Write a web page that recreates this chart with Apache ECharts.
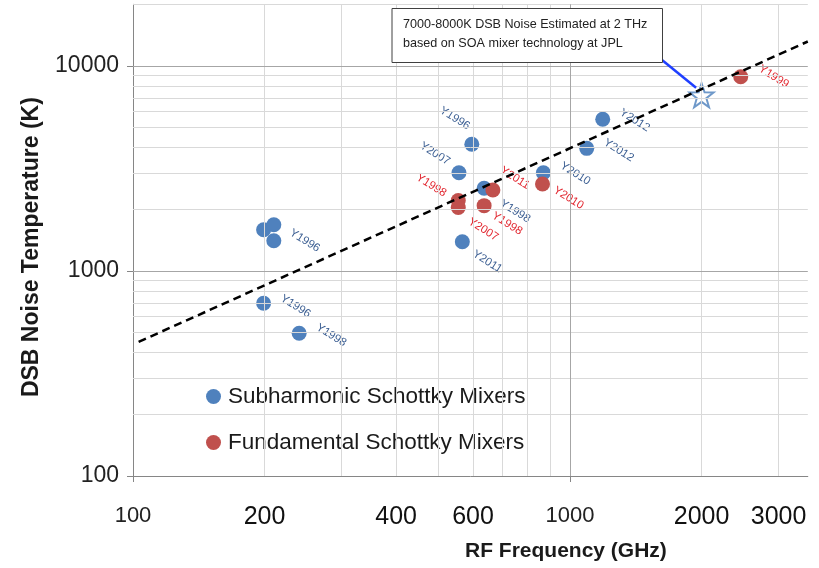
<!DOCTYPE html>
<html><head><meta charset="utf-8">
<script src="https://cdn.jsdelivr.net/npm/echarts@6/dist/echarts.min.js"></script>
<style>html,body{margin:0;padding:0;background:#fff}#c{width:819px;height:568px}</style>
</head><body><div id="c"></div>
<script>
// ---- data ----
const subFreq  = [199, 210, 210, 199, 240, 596, 557, 636, 869, 1092, 1188, 567];
const subTemp  = [1590, 1680, 1405, 696, 497, 4150, 3017, 2532, 3017, 3966, 5497, 1390];
const subYears = ['', '', 'Y1996', 'Y1996', 'Y1998', 'Y1996', 'Y2007', 'Y1998', 'Y2010', 'Y2012', 'Y2012', 'Y2011'];

const fundFreq  = [555, 555, 636, 666, 865, 2458];
const fundTemp  = [2208, 2040, 2083, 2484, 2657, 8870];
const fundYears = ['Y1998', 'Y2007', 'Y1998', 'Y2011', 'Y2010', 'Y1999'];

const soaEstimate = [2000, 7200];
const trendFreq = [103, 3500];
const trendTemp = [451, 13170];

const xLabelValues = [100, 200, 400, 600, 1000, 2000, 3000];
const yLabelValues = [100, 1000, 10000];
const xMajorGrid = [1000];
const xMinorGrid = [200, 300, 400, 500, 600, 700, 800, 900, 2000, 3000];
const yMajorGrid = [1000, 10000];
const yMinorGrid = [200, 300, 400, 500, 600, 700, 800, 900, 2000, 3000, 4000, 5000, 6000, 7000, 8000, 9000, 20000];

const calloutLines = ['7000-8000K DSB Noise Estimated at 2 THz', 'based on SOA mixer technology at JPL'];

// label pixel offsets on screen (layout only)
const subLabelOffsets  = [[0,0],[0,0],[31,0],[32,3],[32,2],[-17,-26],[-24,-19],[31,23],[32,1],[32,2],[32,1],[25,20]];
const fundLabelOffsets = [[-27,-15],[25,22],[23,18],[22,-12],[26,14],[33,0]];

const FONT = 'Liberation Sans, Arial, sans-serif';
const BLUE = '#4f81bd', RED = '#c0504d';
const LABEL_ROT = 32;

// label offset gets rotated with the text; pre-rotate so screen offset is as wanted
function unrotate(d) {
  const a = LABEL_ROT * Math.PI / 180, c = Math.cos(a), s = Math.sin(a);
  return [d[0] * c + d[1] * s, -d[0] * s + d[1] * c];
}
function items(freq, temp, years, offs) {
  return freq.map((f, i) => ({
    value: [f, temp[i]],
    label: years[i] ? { show: true, formatter: years[i], offset: unrotate(offs[i]) } : { show: false }
  }));
}
function labelStyle(color) {
  return { show: true, position: 'inside', align: 'center', verticalAlign: 'middle',
           rotate: -LABEL_ROT, fontSize: 11.5, fontFamily: FONT, color: color };
}

const chart = echarts.init(document.getElementById('c'), null, { renderer: 'canvas' });
const gridStyle = (c) => ({ color: c, width: 1, type: 'solid' });

chart.setOption({
  animation: false,
  backgroundColor: '#fff',
  grid: { left: 133, right: 11.2, top: 4.3, bottom: 92 },
  legend: {
    data: ['Subharmonic Schottky Mixers', 'Fundamental Schottky Mixers'],
    orient: 'vertical', left: 201, top: 380, itemGap: 23,
    icon: 'circle', itemWidth: 15, itemHeight: 15,
    textStyle: { fontSize: 22.5, fontFamily: FONT, color: '#1a1a1a', padding: [0,0,0,2] }
  },
  xAxis: {
    type: 'log', logBase: 10, min: 100, max: 3500,
    name: 'RF Frequency (GHz)', nameLocation: 'middle', nameGap: 65,
    nameTextStyle: { fontSize: 21, fontWeight: 'bold', fontFamily: FONT, color: '#1a1a1a', padding: [0,0,0,191] },
    axisLine: { show: true, lineStyle: { color: '#868686', width: 1 } },
    axisTick: { show: true, customValues: [100, 1000], length: 6, lineStyle: { color: '#868686' } },
    axisLabel: {
      customValues: xLabelValues, margin: 29,
      formatter: v => { const r = Math.round(v); return (r === 100 || r === 1000) ? '{s|' + r + '}' : '{b|' + r + '}'; },
      rich: { s: { fontSize: 22, fontFamily: FONT, color: '#222' }, b: { fontSize: 25, fontFamily: FONT, color: '#111' } }
    },
    splitLine: { show: false }, minorTick: { show: false }
  },
  yAxis: {
    type: 'log', logBase: 10, min: 100, max: 20000,
    name: 'DSB Noise Temperature (K)', nameLocation: 'middle', nameGap: 90,
    nameTextStyle: { fontSize: 23, fontWeight: 'bold', fontFamily: FONT, color: '#1a1a1a', padding: [0,14,0,0] },
    axisLine: { show: true, lineStyle: { color: '#868686', width: 1 } },
    axisTick: { show: true, customValues: yLabelValues, length: 6, lineStyle: { color: '#868686' } },
    axisLabel: { customValues: yLabelValues, margin: 14, fontSize: 23, fontFamily: FONT, color: '#222',
                 formatter: v => String(Math.round(v)) },
    splitLine: { show: false }
  },
  series: [
    { name: 'minorGrid', type: 'scatter', data: [], z: 1, silent: true,
      markLine: { silent: true, symbol: 'none', animation: false, label: { show: false },
        lineStyle: gridStyle('#d9d9d9'),
        data: xMinorGrid.map(v => ({ xAxis: v })).concat(yMinorGrid.map(v => ({ yAxis: v }))) } },
    { name: 'majorGrid', type: 'scatter', data: [], z: 1, silent: true,
      markLine: { silent: true, symbol: 'none', animation: false, label: { show: false },
        lineStyle: gridStyle('#a6a6a6'),
        data: xMajorGrid.map(v => ({ xAxis: v })).concat(yMajorGrid.map(v => ({ yAxis: v }))) } },
    { name: 'Subharmonic Schottky Mixers', type: 'scatter', z: 3, symbolSize: 15,
      itemStyle: { color: BLUE, opacity: 1 }, label: labelStyle('#3b5e92'),
      data: items(subFreq, subTemp, subYears, subLabelOffsets) },
    { name: 'Fundamental Schottky Mixers', type: 'scatter', z: 3, symbolSize: 15,
      itemStyle: { color: RED, opacity: 1 }, label: labelStyle('#e2262f'),
      data: items(fundFreq, fundTemp, fundYears, fundLabelOffsets) },
    { name: 'SOA estimate', type: 'scatter', z: 4, symbolSize: 24,
      symbol: 'path://M0,-10 L2.35,-3.24 L9.51,-3.09 L3.8,1.24 L5.88,8.09 L0,4 L-5.88,8.09 L-3.8,1.24 L-9.51,-3.09 L-2.35,-3.24 Z',
      itemStyle: { color: '#ffffff', borderColor: '#4a7ebb', borderWidth: 2 },
      data: [soaEstimate] },
    { name: 'trend', type: 'line', z: 5, symbol: 'none', silent: true,
      lineStyle: { color: '#000', width: 2.5, type: [8, 5] },
      data: trendFreq.map((f, i) => [f, trendTemp[i]]) }
  ]
});

const sp = chart.convertToPixel({ gridIndex: 0 }, soaEstimate);
chart.setOption({
  graphic: [
    { type: 'line', z: 100, shape: { x1: 662, y1: 60, x2: sp[0] - 5.5, y2: sp[1] - 7.5 },
      style: { stroke: '#1f3fff', lineWidth: 2.5 } },
    { type: 'rect', z: 101, shape: { x: 392, y: 8.5, width: 270.5, height: 54 },
      style: { fill: '#fff', stroke: '#404040', lineWidth: 1 } },
    { type: 'text', z: 102, left: 403, top: 18,
      style: { text: calloutLines[0], font: '12.6px ' + FONT, fill: '#222' } },
    { type: 'text', z: 102, left: 403, top: 37,
      style: { text: calloutLines[1], font: '12.6px ' + FONT, fill: '#222' } }
  ]
});
</script></body></html>
